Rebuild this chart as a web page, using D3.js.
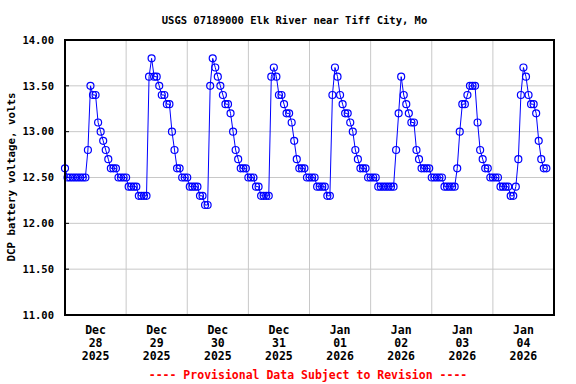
<!DOCTYPE html>
<html lang="en">
	<head>
		<meta charset="utf-8">
		<title>USGS 07189000 Elk River near Tiff City, Mo</title>
		<script src="https://d3js.org/d3.v7.min.js"></script>
		<style type="text/css">
			body { margin: 0; background: #fff; }
			text { font-family: "DejaVu Sans Mono", monospace; font-weight: bold; }
		</style>
	</head>
	<body>
		<script type="text/javascript">
			// hourly readings, starting at midnight Dec 28 2025
			var startTime = "2025-12-28T00:00:00Z";
			var volts = [
				12.6, 12.5, 12.5, 12.5, 12.5, 12.5, 12.5, 12.5, 12.5, 12.8, 13.5, 13.4, 13.4, 13.1, 13.0, 12.9, 12.8, 12.7, 12.6, 12.6, 12.6, 12.5, 12.5, 12.5,
				12.5, 12.4, 12.4, 12.4, 12.4, 12.3, 12.3, 12.3, 12.3, 13.6, 13.8, 13.6, 13.6, 13.5, 13.4, 13.4, 13.3, 13.3, 13.0, 12.8, 12.6, 12.6, 12.5, 12.5,
				12.5, 12.4, 12.4, 12.4, 12.4, 12.3, 12.3, 12.2, 12.2, 13.5, 13.8, 13.7, 13.6, 13.5, 13.4, 13.3, 13.3, 13.2, 13.0, 12.8, 12.7, 12.6, 12.6, 12.6,
				12.5, 12.5, 12.5, 12.4, 12.4, 12.3, 12.3, 12.3, 12.3, 13.6, 13.7, 13.6, 13.4, 13.4, 13.3, 13.2, 13.2, 13.1, 12.9, 12.7, 12.6, 12.6, 12.6, 12.5,
				12.5, 12.5, 12.5, 12.4, 12.4, 12.4, 12.4, 12.3, 12.3, 13.4, 13.7, 13.6, 13.4, 13.3, 13.2, 13.2, 13.1, 13.0, 12.8, 12.7, 12.6, 12.6, 12.6, 12.5,
				12.5, 12.5, 12.5, 12.4, 12.4, 12.4, 12.4, 12.4, 12.4, 12.4, 12.8, 13.2, 13.6, 13.4, 13.3, 13.2, 13.1, 13.1, 12.8, 12.7, 12.6, 12.6, 12.6, 12.6,
				12.5, 12.5, 12.5, 12.5, 12.5, 12.4, 12.4, 12.4, 12.4, 12.4, 12.6, 13.0, 13.3, 13.3, 13.4, 13.5, 13.5, 13.5, 13.1, 12.8, 12.7, 12.6, 12.6, 12.5,
				12.5, 12.5, 12.5, 12.4, 12.4, 12.4, 12.4, 12.3, 12.3, 12.4, 12.7, 13.4, 13.7, 13.6, 13.4, 13.3, 13.3, 13.2, 12.9, 12.7, 12.6, 12.6
			];
			var dayMonths = ["Dec", "Dec", "Dec", "Dec", "Jan", "Jan", "Jan", "Jan"];
			var dayNums = ["28", "29", "30", "31", "01", "02", "03", "04"];
			var dayYears = ["2025", "2025", "2025", "2025", "2026", "2026", "2026", "2026"];
			var yTicks = [11.0, 11.5, 12.0, 12.5, 13.0, 13.5, 14.0];

			var w = 576;
			var h = 384;
			var padL = 65, padR = 554, padT = 40, padB = 315;

			var t0 = new Date(startTime);
			var hour = 3600 * 1000;
			var data = volts.map(function(v, i) { return { t: new Date(t0.getTime() + i * hour), v: v }; });
			var days = dayNums.map(function(d, i) { return new Date(t0.getTime() + i * 24 * hour); });

			var svg = d3.select('body').append('svg').attr('width', w).attr('height', h);

			var xScale = d3.scaleUtc()
				.domain([t0, new Date(t0.getTime() + 8 * 24 * hour)])
				.range([padL, padR]);

			var yScale = d3.scaleLinear()
				.domain([11, 14])
				.range([padB, padT]);

			// grid
			svg.selectAll('line.hgrid')
				.data(yTicks)
				.enter()
				.append('line')
					.attr('x1', padL).attr('x2', padR)
					.attr('y1', d => yScale(d)).attr('y2', d => yScale(d))
					.attr('stroke', '#c8c8c8').attr('stroke-width', 1);

			svg.selectAll('line.vgrid')
				.data(days.slice(1))
				.enter()
				.append('line')
					.attr('x1', d => xScale(d)).attr('x2', d => xScale(d))
					.attr('y1', padT).attr('y2', padB)
					.attr('stroke', '#c8c8c8').attr('stroke-width', 1);

			// y ticks + labels
			svg.selectAll('line.ytick')
				.data(yTicks)
				.enter()
				.append('line')
					.attr('x1', padL).attr('x2', padL + 4)
					.attr('y1', d => yScale(d)).attr('y2', d => yScale(d))
					.attr('stroke', 'black').attr('stroke-width', 1);

			svg.selectAll('text.ylab')
				.data(yTicks)
				.enter()
				.append('text')
					.attr('x', 54)
					.attr('y', d => yScale(d))
					.attr('dy', '0.35em')
					.attr('text-anchor', 'end')
					.attr('font-size', '10.5px')
					.text(d => d3.format('.2f')(d));

			// x labels at noon
			var xl = svg.selectAll('text.xlab')
				.data(days)
				.enter()
				.append('text')
					.attr('text-anchor', 'middle')
					.attr('font-size', '11.5px')
					.attr('transform', d => 'translate(' + xScale(new Date(d.getTime() + 12 * hour)) + ',334)');
			xl.append('tspan').attr('x', 0).attr('y', 0).text((d, i) => dayMonths[i]);
			xl.append('tspan').attr('x', 0).attr('y', 13).text((d, i) => dayNums[i]);
			xl.append('tspan').attr('x', 0).attr('y', 26).text((d, i) => dayYears[i]);

			// series
			var line = d3.line().x(d => xScale(d.t)).y(d => yScale(d.v));
			svg.append('path')
				.datum(data)
				.attr('d', line)
				.attr('fill', 'none')
				.attr('stroke', '#0000ff')
				.attr('stroke-width', 1);

			svg.selectAll('circle')
				.data(data)
				.enter()
				.append('circle')
					.attr('cx', d => xScale(d.t))
					.attr('cy', d => yScale(d.v))
					.attr('r', 3.5)
					.attr('fill', 'none')
					.attr('stroke', '#0000ff')
					.attr('stroke-width', 1.2);

			// frame
			svg.append('rect')
				.attr('x', padL).attr('y', padT)
				.attr('width', padR - padL).attr('height', padB - padT)
				.attr('fill', 'none')
				.attr('stroke', 'black')
				.attr('stroke-width', 2);

			// titles
			svg.append('text')
				.attr('x', 294.5).attr('y', 24)
				.attr('text-anchor', 'middle')
				.attr('font-size', '10.5px')
				.text('USGS 07189000 Elk River near Tiff City, Mo');

			svg.append('text')
				.attr('transform', 'translate(15,177) rotate(-90)')
				.attr('text-anchor', 'middle')
				.attr('font-size', '10.8px')
				.text('DCP battery voltage, volts');

			svg.append('text')
				.attr('x', 308).attr('y', 379)
				.attr('text-anchor', 'middle')
				.attr('font-size', '11.5px')
				.attr('fill', '#ff0000')
				.text('---- Provisional Data Subject to Revision ----');
		</script>
	</body>
</html>
